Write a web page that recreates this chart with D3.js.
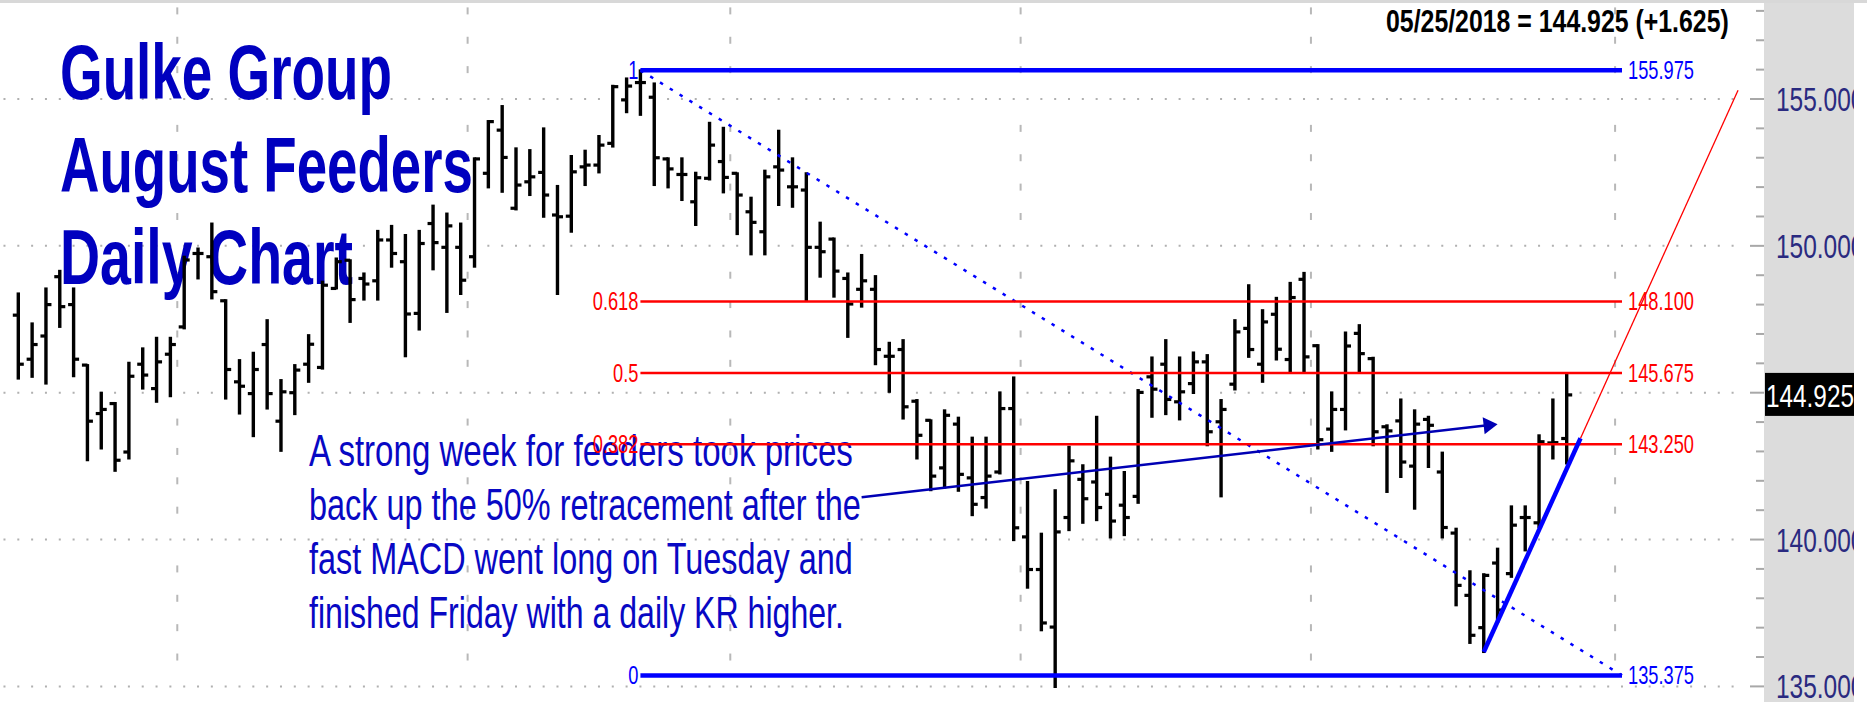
<!DOCTYPE html>
<html>
<head>
<meta charset="utf-8">
<script src="https://cdn.jsdelivr.net/npm/d3@7"></script>
<style>
  html, body { margin: 0; padding: 0; background: #fff; overflow: hidden; }
  svg { display: block; }
  text { font-family: "Liberation Sans Narrow", "Arial Narrow", "Liberation Sans", Arial, sans-serif; }
</style>
</head>
<body>
<svg id="chart" width="1867" height="702"></svg>
<script>
// trading days shown on the chart
const dates = [
  '2017-12-13','2017-12-14','2017-12-15','2017-12-18','2017-12-19','2017-12-20','2017-12-21','2017-12-22','2017-12-26','2017-12-27','2017-12-28','2017-12-29',
  '2018-01-02','2018-01-03','2018-01-04','2018-01-05','2018-01-08','2018-01-09','2018-01-10','2018-01-11','2018-01-12','2018-01-16','2018-01-17','2018-01-18','2018-01-19','2018-01-22','2018-01-23','2018-01-24','2018-01-25','2018-01-26','2018-01-29','2018-01-30','2018-01-31',
  '2018-02-01','2018-02-02','2018-02-05','2018-02-06','2018-02-07','2018-02-08','2018-02-09','2018-02-12','2018-02-13','2018-02-14','2018-02-15','2018-02-16','2018-02-20','2018-02-21','2018-02-22','2018-02-23','2018-02-26','2018-02-27','2018-02-28',
  '2018-03-01','2018-03-02','2018-03-05','2018-03-06','2018-03-07','2018-03-08','2018-03-09','2018-03-12','2018-03-13','2018-03-14','2018-03-15','2018-03-16','2018-03-19','2018-03-20','2018-03-21','2018-03-22','2018-03-23','2018-03-26','2018-03-27','2018-03-28','2018-03-29',
  '2018-04-02','2018-04-03','2018-04-04','2018-04-05','2018-04-06','2018-04-09','2018-04-10','2018-04-11','2018-04-12','2018-04-13','2018-04-16','2018-04-17','2018-04-18','2018-04-19','2018-04-20','2018-04-23','2018-04-24','2018-04-25','2018-04-26','2018-04-27','2018-04-30',
  '2018-05-01','2018-05-02','2018-05-03','2018-05-04','2018-05-07','2018-05-08','2018-05-09','2018-05-10','2018-05-11','2018-05-14','2018-05-15','2018-05-16','2018-05-17','2018-05-18','2018-05-21','2018-05-22','2018-05-23','2018-05-24','2018-05-25'
];
// empty slots to the right of the last bar
const futureDates = ['2018-05-29','2018-05-30','2018-05-31','2018-06-01','2018-06-04','2018-06-05','2018-06-06','2018-06-07','2018-06-08','2018-06-11','2018-06-12','2018-06-13','2018-06-14'];

const opens = [
  147.64,146.14,146.93,148.95,148.00,145.94,144.29,144.63,142.98,145.97,145.14,146.31,
  147.24,149.74,149.63,148.13,145.37,144.97,146.64,144.03,145.00,145.97,145.86,148.55,149.51,148.89,148.81,150.20,149.46,147.70,150.76,149.95,149.95,
  149.63,152.47,153.94,151.28,152.18,152.50,151.05,151.01,152.69,152.75,153.49,154.97,155.56,155.06,152.96,152.43,151.50,152.30,152.87,
  152.47,151.16,150.48,152.69,152.01,151.90,149.95,150.23,148.89,148.52,148.52,146.24,146.47,144.71,144.06,142.44,143.93,142.10,141.43,142.30,144.46,
  140.09,138.98,137.02,140.75,142.05,141.96,141.54,141.17,141.47,145.54,145.97,144.69,145.31,146.05,144.01,145.29,147.19,145.97,147.67,146.13,148.86,
  146.60,143.76,144.43,147.02,146.16,143.84,144.04,142.50,144.09,142.30,140.22,138.10,137.00,139.20,138.84,140.75,140.57,143.29,143.44
];
const highs = [
  148.38,147.36,148.55,149.15,148.55,145.94,145.00,144.65,146.02,146.51,146.87,146.87,
  149.63,149.91,150.76,148.15,146.11,146.36,147.47,145.43,145.94,146.96,148.78,149.57,149.51,149.06,150.51,150.68,150.37,150.51,151.37,151.10,150.76,
  152.98,154.25,154.76,153.32,153.26,154.00,152.04,153.06,153.24,153.74,155.45,155.70,155.975,155.53,152.98,152.98,152.49,154.19,154.02,
  152.47,151.64,152.56,153.92,152.98,152.47,150.79,150.25,149.06,149.69,148.97,146.70,146.79,144.75,144.06,144.40,144.15,143.47,143.47,145.01,145.52,
  141.96,140.20,141.68,143.16,142.53,144.18,142.79,142.30,145.09,146.20,146.79,146.20,146.37,146.28,144.75,147.47,148.66,147.81,148.23,148.74,149.08,
  146.62,145.01,147.05,147.30,146.19,143.89,144.77,144.40,144.18,142.96,140.37,138.92,138.82,139.69,141.13,141.13,143.55,144.77,145.65
];
const lows = [
  145.48,145.54,145.31,147.24,145.56,142.70,143.10,142.34,142.76,145.14,144.69,144.88,
  147.19,148.89,148.21,144.80,144.29,143.52,144.46,143.02,144.27,145.37,145.82,148.55,147.41,148.17,148.17,149.29,146.24,147.15,149.20,147.75,148.36,
  149.29,151.99,151.84,151.24,151.73,150.99,148.36,150.48,152.07,152.50,153.38,154.55,154.46,152.07,151.99,151.56,150.71,152.26,151.82,
  150.40,149.71,149.71,151.39,151.33,148.15,148.95,148.27,146.90,147.93,145.97,145.03,144.12,142.76,141.68,141.77,141.66,140.83,141.09,142.25,139.98,
  138.36,136.91,134.98,140.32,140.57,140.66,140.07,140.15,141.25,144.18,144.27,144.09,144.99,143.21,141.47,145.11,146.22,145.37,146.13,145.68,145.68,
  143.10,143.02,143.75,145.71,143.21,141.62,142.13,141.05,142.47,140.07,137.76,136.48,136.17,137.19,138.73,139.63,140.43,142.76,142.59
];
const closes = [
  145.97,146.64,148.00,147.93,146.14,144.03,144.43,142.70,145.56,145.60,146.05,146.64,
  149.52,149.74,148.44,145.79,145.22,145.79,144.97,145.03,145.77,146.65,148.66,149.46,148.17,148.70,150.20,149.74,147.68,150.08,150.11,150.68,148.83,
  152.96,154.23,153.01,152.07,152.35,151.73,150.99,152.52,152.75,153.43,155.42,155.44,155.56,153.00,152.62,152.43,152.32,153.43,152.33,
  151.73,150.80,152.35,152.58,152.01,149.95,149.80,149.14,148.02,148.81,146.47,146.24,144.52,143.55,142.16,144.23,142.22,141.20,142.16,144.46,140.40,
  138.98,137.16,140.26,142.68,141.39,141.09,140.63,140.75,145.01,145.12,144.77,145.03,146.05,143.67,144.43,147.07,146.47,147.41,146.48,148.24,146.22,
  143.40,144.43,146.59,146.33,143.67,143.70,142.64,143.93,143.89,140.41,138.44,136.74,138.78,137.60,140.49,140.75,143.33,143.30,144.925
];

const priceTicks = [135, 140, 145, 150, 155];
const fibRatios = [1, 0.618, 0.5, 0.382, 0];
const fibRatioLabels = ['1', '0.618', '0.5', '0.382', '0'];
const fibHigh = 155.975, fibLow = 135.375;
const fibFrom = '2018-02-20', fibTo = '2018-06-01';
const arrowFrom = ['2018-03-14', 141.44], arrowTo = ['2018-05-18', 143.93];
const trendFrom = ['2018-05-17', 136.17], trendTo = ['2018-05-29', 143.45], trendEndPrice = 155.3;

const titleLines = ['Gulke Group', 'August Feeders', 'Daily Chart'];
const noteLines = [
  'A strong week for feeders took prices',
  'back up the 50% retracement after the',
  'fast MACD went long on Tuesday and',
  'finished Friday with a daily KR higher.'
];

const allDates = dates.concat(futureDates);
const idx = d => allDates.indexOf(d);

const svg = d3.select('#chart');
const x = d3.scaleLinear().domain([0, dates.length - 1]).range([18.3, 1566.7]);
const y = d3.scaleLinear().domain([135, 155]).range([686.4, 99]);

// text squeezed horizontally to the narrow look of the original
function label(parent, str, px, py, o) {
  const t = parent.append('text')
    .attr('font-size', o.size).attr('font-weight', o.weight || 400)
    .attr('fill', o.fill).attr('text-anchor', o.anchor || 'start')
    .text(str);
  const w = t.node().getComputedTextLength();
  const sx = o.width ? o.width / w : (o.sx || 1);
  t.attr('transform', `translate(${px},${py}) scale(${sx},1)`);
  return t;
}

// frame
svg.append('rect').attr('width', 1867).attr('height', 702).attr('fill', '#fff');

// grid: dotted price lines, dashed month lines
const grid = svg.append('g');
grid.selectAll('line.h').data(priceTicks).enter().append('line')
  .attr('x1', x(-1) - 1).attr('x2', x(124) + 1)
  .attr('y1', d => y(d)).attr('y2', d => y(d))
  .attr('stroke', '#b0b0b0').attr('stroke-width', 2)
  .attr('stroke-dasharray', `2,${x(1) - x(0) - 2}`);

const monthBreaks = [];
for (let i = 1; i < allDates.length; i++) {
  if (allDates[i].slice(5, 7) !== allDates[i - 1].slice(5, 7)) monthBreaks.push(i - 0.5);
}
const minorPrices = d3.range(134, 159);
monthBreaks.forEach(b => {
  grid.selectAll(null).data(minorPrices.filter(p => p % 5 !== 0)).enter().append('line')
    .attr('x1', x(b)).attr('x2', x(b))
    .attr('y1', p => y(p) - 3.5).attr('y2', p => y(p) + 3.5)
    .attr('stroke', '#b8b8b8').attr('stroke-width', 2);
});

// headline text
const txt = svg.append('g');
const titleW = [332, 413, 293];
titleLines.forEach((s, i) => label(txt, s, 60, 99 + i * 92.5, { size: 78, weight: 700, fill: '#0000bf', width: titleW[i] }));
const noteW = [544, 552, 544, 535];
noteLines.forEach((s, i) => label(txt, s, 309, 466 + i * 54, { size: 44, fill: '#0808c4', width: noteW[i] }));

// OHLC bars
const bars = svg.append('g').attr('stroke', '#000');
dates.forEach((d, i) => {
  const cx = x(i);
  bars.append('line').attr('x1', cx).attr('x2', cx).attr('y1', y(highs[i]) - 1).attr('y2', y(lows[i]) + 1)
    .attr('stroke-width', 3.4);
  bars.append('line').attr('x1', cx - 5.5).attr('x2', cx).attr('y1', y(opens[i])).attr('y2', y(opens[i]))
    .attr('stroke-width', 3.2);
  bars.append('line').attr('x1', cx).attr('x2', cx + 5.5).attr('y1', y(closes[i])).attr('y2', y(closes[i]))
    .attr('stroke-width', 3.2);
});

// fibonacci retracement
const fib = svg.append('g');
const fx1 = x(idx(fibFrom)), fx2 = x(idx(fibTo));
const fibPrice = r => fibLow + r * (fibHigh - fibLow);
const tick = v => (Math.round(v / 0.025) * 0.025).toFixed(3);
fib.append('line').attr('x1', fx1).attr('y1', y(fibHigh)).attr('x2', fx2).attr('y2', y(fibLow))
  .attr('stroke', '#0000ff').attr('stroke-width', 2.5).attr('stroke-dasharray', '3.5,8');
fibRatios.forEach(r => {
  const edge = r === 1 || r === 0;
  fib.append('line').attr('x1', fx1).attr('x2', fx2)
    .attr('y1', y(fibPrice(r))).attr('y2', y(fibPrice(r)))
    .attr('stroke', edge ? '#0000ff' : '#ff0000').attr('stroke-width', edge ? 4.5 : 2.5);
});

// trend arrow
const ax1 = x(idx(arrowFrom[0])), ay1 = y(arrowFrom[1]);
const ax2 = x(idx(arrowTo[0])), ay2 = y(arrowTo[1]);
const ang = Math.atan2(ay2 - ay1, ax2 - ax1);
svg.append('line').attr('x1', ax1).attr('y1', ay1)
  .attr('x2', ax2 - 10 * Math.cos(ang)).attr('y2', ay2 - 10 * Math.sin(ang))
  .attr('stroke', '#0000b4').attr('stroke-width', 2.5);
svg.append('path')
  .attr('d', 'M0,0 L-14,-8.5 L-14,8.5 Z')
  .attr('transform', `translate(${ax2},${ay2}) rotate(${ang * 180 / Math.PI})`)
  .attr('fill', '#0000b4');

// uptrend line with its red extension
const ti1 = idx(trendFrom[0]), ti2 = idx(trendTo[0]);
const slope = (trendTo[1] - trendFrom[1]) / (ti2 - ti1);
const tiEnd = ti2 + (trendEndPrice - trendTo[1]) / slope;
svg.append('line').attr('x1', x(ti2)).attr('y1', y(trendTo[1])).attr('x2', x(tiEnd)).attr('y2', y(trendEndPrice))
  .attr('stroke', '#ff0000').attr('stroke-width', 1.3);
svg.append('line').attr('x1', x(ti1)).attr('y1', y(trendFrom[1])).attr('x2', x(ti2)).attr('y2', y(trendTo[1]))
  .attr('stroke', '#0000ff').attr('stroke-width', 4.5);

// fib labels
const probe = fib.append('text').attr('font-size', 26).text('148.100');
const fsx = 66 / probe.node().getComputedTextLength();
probe.remove();
fibRatios.forEach((r, i) => {
  const p = fibPrice(r), edge = r === 1 || r === 0;
  const col = edge ? '#0000ff' : '#ff0000';
  label(fib, fibRatioLabels[i], fx1 - 2, y(p) + 9, { size: 26, fill: col, anchor: 'end', sx: fsx });
  label(fib, tick(p), fx2 + 6, y(p) + 9, { size: 26, fill: col, sx: fsx });
});

// price axis panel
const panelX = 1764, panelW = 90;
svg.append('rect').attr('x', panelX).attr('y', 0).attr('width', panelW).attr('height', 702).attr('fill', '#dcdcdc');
svg.append('rect').attr('x', 0).attr('y', 0).attr('width', 1867).attr('height', 3).attr('fill', '#d8d8d8');
const axis = svg.append('g');
axis.selectAll('line').data(d3.range(134, 159)).enter().append('line')
  .attr('x1', p => p % 5 === 0 ? panelX - 14 : panelX - 8).attr('x2', panelX)
  .attr('y1', p => y(p)).attr('y2', p => y(p))
  .attr('stroke', '#a8a8a8').attr('stroke-width', 2);
svg.append('clipPath').attr('id', 'panel-clip').append('rect')
  .attr('x', panelX).attr('y', 0).attr('width', panelW).attr('height', 702);
const axLabels = svg.append('g').attr('clip-path', 'url(#panel-clip)');
priceTicks.forEach(p => label(axLabels, d3.format('.3f')(p), panelX + 12, y(p) + 12, { size: 34, fill: '#2a2a80', sx: 0.72 }));

// last price box and header
const last = closes[closes.length - 1], prev = closes[closes.length - 2];
axLabels.append('rect').attr('x', panelX + 1).attr('y', y(last) - 22).attr('width', panelW - 1).attr('height', 43).attr('fill', '#000');
label(axLabels, d3.format('.3f')(last), panelX + 2, y(last) + 12, { size: 32, fill: '#fff', width: 88 });

const [yy, mm, dd] = dates[dates.length - 1].split('-');
const header = `${mm}/${dd}/${yy} = ${d3.format('.3f')(last)} (${d3.format('+.3f')(last - prev)})`;
label(svg, header, 1386, 32, { size: 32, weight: 700, fill: '#000', width: 343 });
</script>
</body>
</html>
